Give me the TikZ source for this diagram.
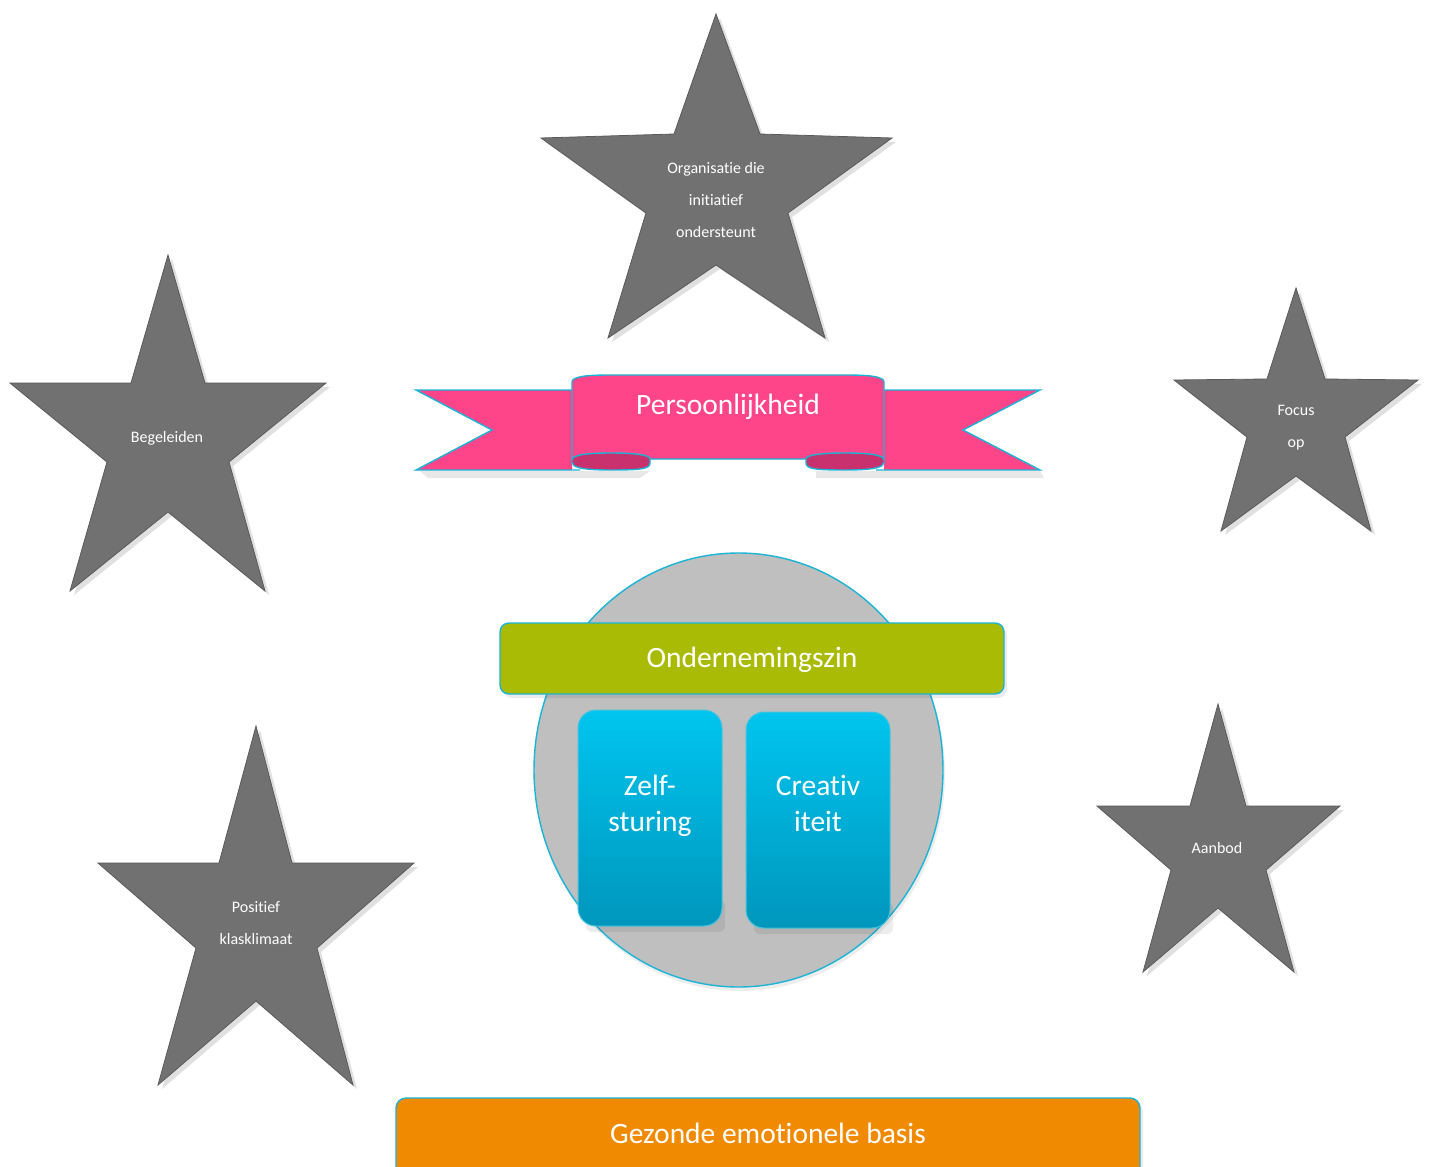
\documentclass[tikz,border=0pt]{standalone}
\usepackage{fontspec}
\setmainfont{Carlito}[Ligatures=NoCommon]
\definecolor{stargray}{HTML}{717171}
\definecolor{stardark}{HTML}{5A5A5A}
\definecolor{rpink}{HTML}{FF4589}
\definecolor{rpinkdark}{HTML}{C8306E}
\definecolor{cyanline}{HTML}{1AB4D6}
\definecolor{circgray}{HTML}{BFBFBF}
\definecolor{olive}{HTML}{AABB05}
\definecolor{btop}{HTML}{00C5EF}
\definecolor{bbot}{HTML}{0096BC}
\definecolor{orangebar}{HTML}{F08A00}
\tikzset{
  starshape/.style={fill=stargray, draw=stardark, line width=0.8pt, line join=miter},
  starshadow/.style={fill=black, opacity=0.12},
  startext/.style={text=white, font=\fontsize{16}{32}\selectfont, align=center},
  bigtext/.style={text=white, font=\fontsize{29.5}{36}\selectfont, align=center},
  outline/.style={draw=cyanline, line width=1.4pt},
}
\begin{document}
\begin{tikzpicture}[x=1pt,y=-1pt]
\useasboundingbox (0,0) rectangle (1430,1167);
\fill[white] (0,0) rectangle (1430,1167);

% ---------- stars ----------
% top star
\fill[starshadow] (720,18) -- (678,138) -- (545,142) -- (650,217) -- (612,342) -- (720,269) -- (829,342) -- (792,217) -- (896,142) -- (764,138) -- cycle;
\draw[starshape] (716,14) -- (674,134) -- (541,138) -- (646,213) -- (608,338) -- (716,265) -- (825,338) -- (788,213) -- (892,138) -- (760,134) -- cycle;
% Begeleiden star
\fill[starshadow] (172,259) -- (135,387) -- (14,387) -- (111,466) -- (74,595) -- (172,516) -- (269,595) -- (233,466) -- (330,387) -- (209,387) -- cycle;
\draw[starshape] (168,255) -- (131,383) -- (10,383) -- (107,462) -- (70,591) -- (168,512) -- (265,591) -- (229,462) -- (326,383) -- (205,383) -- cycle;
% Focus op star
\fill[starshadow] (1300,292) -- (1271,383) -- (1178,384) -- (1251,441) -- (1225,535) -- (1300,480) -- (1375,535) -- (1349,441) -- (1422,384) -- (1329,383) -- cycle;
\draw[starshape] (1296,288) -- (1267,379) -- (1174,380) -- (1247,437) -- (1221,531) -- (1296,476) -- (1371,531) -- (1345,437) -- (1418,380) -- (1325,379) -- cycle;
% Positief klasklimaat star
\fill[starshadow] (260,730) -- (223,867) -- (102,867) -- (200,952) -- (162,1089) -- (260,1005) -- (357,1089) -- (321,952) -- (418,867) -- (296,867) -- cycle;
\draw[starshape] (256,726) -- (219,863) -- (98,863) -- (196,948) -- (158,1085) -- (256,1001) -- (353,1085) -- (317,948) -- (414,863) -- (292,863) -- cycle;
% Aanbod star
\fill[starshadow] (1222,708) -- (1194,810) -- (1101,810) -- (1175,874) -- (1147,976) -- (1222,912) -- (1298,976) -- (1270,874) -- (1344,810) -- (1250,810) -- cycle;
\draw[starshape] (1218,704) -- (1190,806) -- (1097,806) -- (1171,870) -- (1143,972) -- (1218,908) -- (1294,972) -- (1266,870) -- (1340,806) -- (1246,806) -- cycle;

\node[startext] (org) at (716,200) {Organisatie die\\initiatief\\ondersteunt};
\node[startext] (beg) at (167,438) {Begeleiden};
\node[startext] (foc) at (1296,428) {Focus\\op};
\node[startext] (pos) at (256,923) {Positief\\klasklimaat};
\node[startext] (aan) at (1217,848) {Aanbod};

% ---------- ribbon ----------
% soft shadow under the bottom edges
\fill[black,opacity=0.09] (420,471) -- (650,471) -- (640,478) -- (428,478) -- cycle;
\fill[black,opacity=0.09] (816,471) -- (1040,471) -- (1044,478) -- (816,478) -- cycle;
% left tail
\fill[rpink] (416,390) -- (572,390) -- (572,470) -- (416,470) -- (492,430) -- cycle;
\draw[outline] (572,390) -- (416,390) -- (492,430) -- (416,470) -- (580,470);
% right tail
\fill[rpink] (1040,390) -- (884,390) -- (884,470) -- (1040,470) -- (963,430) -- cycle;
\draw[outline] (884,390) -- (1040,390) -- (963,430) -- (1040,470) -- (876,470);
% folds
\fill[rpinkdark] (572,452) -- (650,452) -- (650,463) .. controls (650,469) and (640,470) .. (611,470) .. controls (580,470) and (572,467) .. (572,462) -- cycle;
\draw[outline] (650,452) -- (650,463) .. controls (650,469) and (640,470) .. (611,470) .. controls (580,470) and (572,467) .. (572,462);
\fill[rpinkdark] (884,452) -- (806,452) -- (806,463) .. controls (806,469) and (816,470) .. (845,470) .. controls (876,470) and (884,467) .. (884,462) -- cycle;
\draw[outline] (806,452) -- (806,463) .. controls (806,469) and (816,470) .. (845,470) .. controls (876,470) and (884,467) .. (884,462);
% main panel
\path[fill=rpink, outline] (572,460) -- (572,382) .. controls (572,376) and (590,375) .. (610,375) -- (846,375) .. controls (866,375) and (884,376) .. (884,382) -- (884,460)
  .. controls (884,455) and (870,453) .. (845,453) .. controls (820,453) and (806,455) .. (806,459)
  -- (650,459) .. controls (650,455) and (636,453) .. (611,453) .. controls (586,453) and (572,455) .. (572,460) -- cycle;
\node[bigtext] (pers) at (728,407) {Persoonlijkheid};

% ---------- circle ----------
\fill[black,opacity=0.07] (740,774) ellipse [x radius=205, y radius=217];
\path[fill=circgray, outline] (738.5,770) ellipse [x radius=204.5, y radius=217];

% blue boxes
\fill[black,opacity=0.07, rounded corners=6] (586,900) rectangle (725,932);
\fill[black,opacity=0.07, rounded corners=6] (754,902) rectangle (893,934);
\path[top color=btop, bottom color=bbot, draw=cyanline!80, line width=1pt, rounded corners=18] (578,710) rectangle (722,926);
\path[top color=btop, bottom color=bbot, draw=cyanline!80, line width=1pt, rounded corners=18] (746,712) rectangle (890,928);
\node[bigtext, anchor=north] (zelf) at (650,771) {Zelf-\\sturing};
\node[bigtext, anchor=north] (crea) at (818,772) {Creativ\\iteit};

% green bar
\fill[black,opacity=0.08, rounded corners=9] (503,627) rectangle (1007,698);
\path[fill=olive, outline, rounded corners=9] (500,623) rectangle (1004,694);
\node[bigtext] (ond) at (752,660) {Ondernemingszin};

% ---------- orange bar ----------
\fill[black,opacity=0.08, rounded corners=10] (399,1102) rectangle (1143,1190);
\path[fill=orangebar, outline, rounded corners=10] (396,1098) rectangle (1140,1190);
\node[bigtext] (gez) at (768,1133) {Gezonde emotionele basis};
\end{tikzpicture}
\end{document}
